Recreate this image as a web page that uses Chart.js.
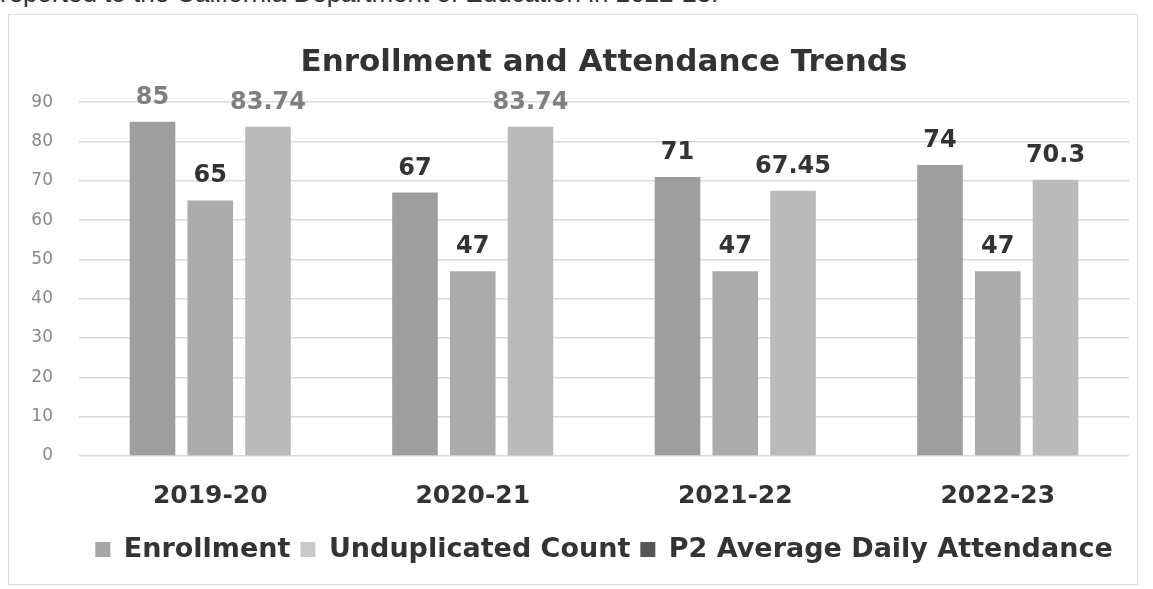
<!DOCTYPE html>
<html>
<head>
<meta charset="utf-8">
<script src="https://cdn.jsdelivr.net/npm/chart.js@4.4.1/dist/chart.umd.min.js"></script>
<style>
  html, body { margin: 0; padding: 0; background: #fff; }
  body { width: 1153px; height: 589px; position: relative; overflow: hidden; }
  .intro {
    position: absolute; left: 0; top: -22px; line-height: 30px;
    font: 26px "Liberation Sans", sans-serif; color: #333; white-space: nowrap;
  }
  .frame {
    position: absolute; left: 8px; top: 14px; width: 1128px; height: 569px;
    border: 1px solid #dcdcdc;
  }
</style>
</head>
<body>
<div class="intro">reported to the California Department of Education in 2022-23.</div>
<div class="frame"><canvas id="chart" width="1128" height="569"></canvas></div>
<script>
const years = ['2019-20', '2020-21', '2021-22', '2022-23']
const enrollment = [85, 67, 71, 74]
const unduplicated = [65, 47, 47, 47]
const p2Attendance = [83.74, 83.74, 67.45, 70.3]
const yTicks = [0, 10, 20, 30, 40, 50, 60, 70, 80, 90]

// legend swatches in the scan don't match the bar fills exactly
const swatches = ['#a6a6a6', '#c9c9c9', '#555555']

// draws the value above each bar
const valueLabels = {
    id: 'valueLabels',
    afterDatasetsDraw(chart) {
        const ctx = chart.ctx
        const top = chart.chartArea.top
        ctx.save()
        ctx.font = 'bold 24px "DejaVu Sans"'
        ctx.textAlign = 'center'
        ctx.textBaseline = 'alphabetic'
        chart.data.datasets.forEach((ds, i) => {
            chart.getDatasetMeta(i).data.forEach((bar, j) => {
                const y = bar.y - 18
                ctx.fillStyle = y < top + 10 ? '#7f7f7f' : '#333333'
                ctx.fillText(String(ds.data[j]), bar.x, y)
            })
        })
        ctx.restore()
    }
}

new Chart(document.getElementById('chart'), {
    type: 'bar',
    data: {
        labels: years,
        datasets: [
            { label: 'Enrollment', data: enrollment, backgroundColor: '#9e9e9e' },
            { label: 'Unduplicated Count', data: unduplicated, backgroundColor: '#ababab' },
            { label: 'P2 Average Daily Attendance', data: p2Attendance, backgroundColor: '#bababa' }
        ]
    },
    options: {
        responsive: false,
        animation: false,
        categoryPercentage: 0.66,
        barPercentage: 0.79,
        layout: { padding: { left: 0, right: 8, top: 0, bottom: 11 } },
        plugins: {
            tooltip: { enabled: false },
            title: {
                display: true,
                fullSize: false,
                text: 'Enrollment and Attendance Trends',
                color: '#333',
                font: { family: 'DejaVu Sans', size: 31, weight: 'bold' },
                padding: { top: 29, bottom: 21 }
            },
            legend: {
                position: 'bottom',
                fullSize: false,
                labels: {
                    color: '#333',
                    font: { family: 'DejaVu Sans', size: 27, weight: 'bold' },
                    boxWidth: 15,
                    boxHeight: 15,
                    padding: 10,
                    generateLabels(chart) {
                        return chart.data.datasets.map((ds, i) => ({
                            text: ds.label,
                            fillStyle: swatches[i],
                            strokeStyle: swatches[i],
                            lineWidth: 0,
                            fontColor: '#333',
                            datasetIndex: i
                        }))
                    }
                }
            }
        },
        scales: {
            x: {
                grid: { display: false },
                border: { display: false },
                ticks: {
                    color: '#333',
                    padding: 17,
                    font: { family: 'DejaVu Sans', size: 25, weight: 'bold' }
                },
                afterFit(scale) { scale.height = 70 }
            },
            y: {
                min: 0,
                max: 90,
                afterBuildTicks(scale) { scale.ticks = yTicks.map(v => ({ value: v })) },
                grid: { color: '#dadada', lineWidth: 1.5, drawTicks: false },
                border: { display: false },
                ticks: {
                    color: '#888',
                    padding: 26,
                    font: { family: 'DejaVu Sans', size: 17 }
                },
                afterFit(scale) { scale.width = 70 }
            }
        }
    },
    plugins: [valueLabels]
})
</script>
</body>
</html>
